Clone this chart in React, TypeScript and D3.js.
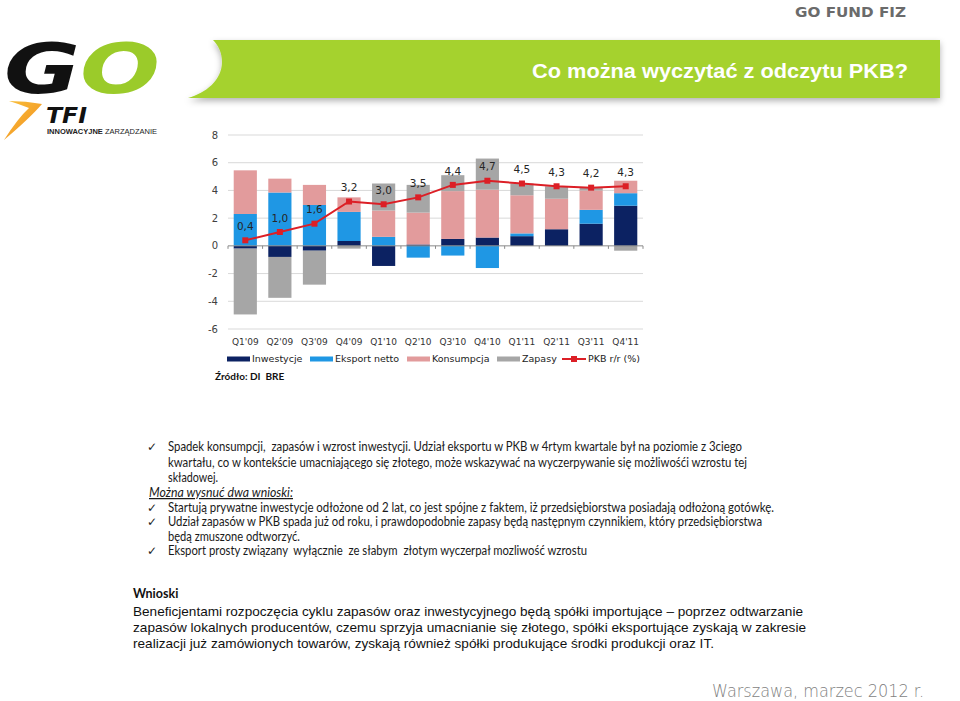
import React from 'react';
import * as d3 from 'd3';

// PKB decomposition, contributions in p.p.
const quarters = ["Q1'09", "Q2'09", "Q3'09", "Q4'09", "Q1'10", "Q2'10", "Q3'10", "Q4'10", "Q1'11", "Q2'11", "Q3'11", "Q4'11"];
const inwestycje = [-0.2, -0.8, -0.35, 0.35, -1.45, 0.1, 0.5, 0.6, 0.7, 1.2, 1.6, 2.9];
const eksportNetto = [2.3, 3.85, 2.95, 2.1, 0.65, -0.85, -0.7, -1.6, 0.2, 0, 1.0, 0.9];
const konsumpcja = [3.15, 1.0, 1.45, 1.05, 1.9, 2.3, 3.45, 3.45, 2.75, 2.2, 1.4, 0.9];
const zapasy = [-4.75, -2.95, -2.45, -0.2, 1.95, 2.0, 1.15, 2.25, 0.85, 0.9, 0.25, -0.35];
const pkb = [0.4, 1.0, 1.6, 3.2, 3.0, 3.5, 4.4, 4.7, 4.5, 4.3, 4.2, 4.3];
const yTicks = [-6, -4, -2, 0, 2, 4, 6, 8];

const seriesKeys = ['Inwestycje', 'Eksport netto', 'Konsumpcja', 'Zapasy'];
const seriesColors = ['#0c2262', '#1f97e4', '#e29b9c', '#a6a6a6'];
const lineColor = '#dc1f26';

const bulletLines = [
  { t: 'Spadek konsumpcji,  zapasów i wzrost inwestycji. Udział eksportu w PKB w 4rtym kwartale był na poziomie z 3ciego', check: true, w: 574 },
  { t: 'kwartału, co w kontekście umacniającego się złotego, może wskazywać na wyczerpywanie się możliwośći wzrostu tej', check: false, w: 579 },
  { t: 'składowej.', check: false, w: 50 },
  { t: 'Startują prywatne inwestycje odłożone od 2 lat, co jest spójne z faktem, iż przedsiębiorstwa posiadają odłożoną gotówkę.', check: true, w: 606 },
  { t: 'Udział zapasów w PKB spada już od roku, i prawdopodobnie zapasy będą następnym czynnikiem, który przedsiębiorstwa', check: true, w: 594 },
  { t: 'będą zmuszone odtworzyć.', check: false, w: 132 },
  { t: 'Eksport prosty związany  wyłącznie  ze słabym  złotym wyczerpał mozliwość wzrostu', check: true, w: 419 },
];
const bulletY = [451, 467, 482, 512, 526, 541, 555];

const wnioskiLines = [
  'Beneficjentami rozpoczęcia cyklu zapasów oraz inwestycyjnego będą spółki importujące – poprzez odtwarzanie',
  'zapasów lokalnych producentów, czemu sprzyja umacnianie się złotego, spółki eksportujące zyskają w zakresie',
  'realizacji już zamówionych towarów, zyskają również spółki produkujące środki produkcji oraz IT.',
];
const wnioskiW = [670, 673, 581];

const chartFont = '"DejaVu Sans", Verdana, sans-serif';
const bodyFont = 'Lato, "Open Sans", sans-serif';
const arialFont = '"Liberation Sans", Arial, sans-serif';

function Chart() {
  const x = d3.scaleBand().domain(quarters).range([228, 643]).paddingInner(0.33).paddingOuter(0.165);
  const y = d3.scaleLinear().domain([-6, 8]).range([329, 135]);
  const rows = quarters.map((q, i) => ({
    q,
    Inwestycje: inwestycje[i],
    'Eksport netto': eksportNetto[i],
    Konsumpcja: konsumpcja[i],
    Zapasy: zapasy[i],
  }));
  const stacked = d3.stack<any>().keys(seriesKeys).offset(d3.stackOffsetDiverging)(rows);
  const bw = x.bandwidth();
  const cx = (q: string) => (x(q) ?? 0) + bw / 2;
  const line = d3
    .line<number>()
    .x((_, i) => cx(quarters[i]))
    .y((v) => y(v));
  const fmt = (v: number) => d3.format('.1f')(v).replace('.', ',');
  const step = x.step();

  const legend = [
    { label: 'Inwestycje', x: 227, color: seriesColors[0] },
    { label: 'Eksport netto', x: 310, color: seriesColors[1] },
    { label: 'Konsumpcja', x: 407, color: seriesColors[2] },
    { label: 'Zapasy', x: 497, color: seriesColors[3] },
  ];

  return (
    <g fontFamily={chartFont}>
      {yTicks.map((t) => (
        <g key={t}>
          {t !== 0 && <line x1={228} x2={643} y1={y(t)} y2={y(t)} stroke="#d9d9d9" strokeWidth={1} />}
          <text x={218} y={y(t)} dy="0.35em" textAnchor="end" fontSize={10} fill="#404040">
            {t}
          </text>
        </g>
      ))}
      {stacked.map((s, si) => (
        <g key={s.key} fill={seriesColors[si]}>
          {s.map((d, i) => {
            const top = y(Math.max(d[0], d[1]));
            const bot = y(Math.min(d[0], d[1]));
            return <rect key={i} x={x(quarters[i])} y={top} width={bw} height={Math.max(0, bot - top)} />;
          })}
        </g>
      ))}
      <line x1={228} x2={643} y1={y(0)} y2={y(0)} stroke="#8a8a8a" strokeWidth={1} />
      {d3.range(quarters.length + 1).map((i) => (
        <line key={i} x1={228 + i * step} x2={228 + i * step} y1={y(0)} y2={y(0) + 3} stroke="#8a8a8a" />
      ))}
      <path d={line(pkb) ?? ''} fill="none" stroke={lineColor} strokeWidth={2} />
      {pkb.map((v, i) => (
        <rect key={i} x={cx(quarters[i]) - 3} y={y(v) - 3} width={6} height={6} fill={lineColor} />
      ))}
      {pkb.map((v, i) => (
        <text key={i} x={cx(quarters[i])} y={y(v) - 14} dy="0.35em" textAnchor="middle" fontSize={10.5} fill="#262626">
          {fmt(v)}
        </text>
      ))}
      {quarters.map((q) => (
        <text key={q} x={cx(q)} y={342} dy="0.35em" textAnchor="middle" fontSize={9} fill="#333">
          {q}
        </text>
      ))}
      {legend.map((l) => (
        <g key={l.label}>
          <rect x={l.x} y={356.5} width={23} height={5} fill={l.color} />
          <text x={l.x + 25} y={359} dy="0.35em" fontSize={9.5} fill="#222">
            {l.label}
          </text>
        </g>
      ))}
      <line x1={562} x2={586} y1={359} y2={359} stroke={lineColor} strokeWidth={2} />
      <rect x={571} y={356} width={6} height={6} fill={lineColor} />
      <text x={588} y={359} dy="0.35em" fontSize={9.5} fill="#222">
        PKB r/r (%)
      </text>
    </g>
  );
}

function Header() {
  return (
    <g>
      <defs>
        <filter id="bannerShadow" x="-5%" y="-20%" width="110%" height="160%">
          <feDropShadow dx="0" dy="3" stdDeviation="3" floodColor="#000" floodOpacity="0.3" />
        </filter>
        <linearGradient id="orange" x1="0" y1="0" x2="1" y2="1">
          <stop offset="0" stopColor="#f9c23c" />
          <stop offset="1" stopColor="#f18a1d" />
        </linearGradient>
      </defs>
      <text x={906} y={17} textAnchor="end" fontFamily={chartFont} fontWeight="bold" fontSize={14} fill="#6b6b6b" textLength={111} lengthAdjust="spacingAndGlyphs">
        GO FUND FIZ
      </text>
      <path
        d="M213,40 H940 V98 H188 C206,93 222,80 222,62 C222,52 218,45 213,40 Z"
        fill="#a5d22f"
        filter="url(#bannerShadow)"
      />
      <text x={908} y={78} textAnchor="end" fontFamily={arialFont} fontWeight="bold" fontSize={21} fill="#fff" textLength={376} lengthAdjust="spacingAndGlyphs">
        Co można wyczytać z odczytu PKB?
      </text>
      {/* logo */}
      <text x={4} y={93} fontFamily={chartFont} fontWeight="bold" fontStyle="italic" fontSize={70} fill="#111" textLength={76} lengthAdjust="spacingAndGlyphs">
        G
      </text>
      <text x={80} y={93} fontFamily={chartFont} fontWeight="bold" fontStyle="italic" fontSize={70} fill="#9bcb2a" textLength={80} lengthAdjust="spacingAndGlyphs">
        O
      </text>
      <path d="M9,101 Q26,101 42,104 Q30,118 4,140 Q18,118 29,108 Q19,104 9,101 Z" fill="url(#orange)" />
      <text x={46} y={123} fontFamily={chartFont} fontWeight="bold" fontStyle="italic" fontSize={22} fill="#111" textLength={41} lengthAdjust="spacingAndGlyphs">
        TFI
      </text>
      <text x={47} y={134} fontFamily={arialFont} fontSize={7.5} fill="#222" textLength={110} lengthAdjust="spacingAndGlyphs">
        <tspan fontWeight="bold">INNOWACYJNE</tspan>
        <tspan> ZARZĄDZANIE</tspan>
      </text>
    </g>
  );
}

function Body() {
  return (
    <g>
      <text x={215} y={380} fontFamily={bodyFont} fontWeight="bold" fontSize={10} fill="#111" style={{ whiteSpace: 'pre' }}>
        Źródło: DI  BRE
      </text>
      {bulletLines.map((l, i) => (
        <g key={i}>
          {l.check && (
            <text x={147} y={bulletY[i]} fontFamily={chartFont} fontSize={12} fill="#222">
              ✓
            </text>
          )}
          <text
            x={168}
            y={bulletY[i]}
            fontFamily={bodyFont}
            fontSize={12.5}
            fill="#1a1a1a"
            style={{ whiteSpace: 'pre' }}
            textLength={l.w}
            lengthAdjust="spacingAndGlyphs"
          >
            {l.t}
          </text>
        </g>
      ))}
      <text x={149} y={497} fontFamily={bodyFont} fontStyle="italic" fontSize={12.5} fill="#1a1a1a" textDecoration="underline" textLength={144} lengthAdjust="spacingAndGlyphs">
        Można wysnuć dwa wnioski:
      </text>
      <text x={133} y={598} fontFamily={bodyFont} fontWeight="bold" fontSize={12.5} fill="#111">
        Wnioski
      </text>
      {wnioskiLines.map((t, i) => (
        <text key={i} x={133} y={616 + i * 16} fontFamily={arialFont} fontSize={13.5} fill="#111" textLength={wnioskiW[i]} lengthAdjust="spacingAndGlyphs">
          {t}
        </text>
      ))}
      <text x={712} y={697} fontFamily={chartFont} fontWeight={200} fontSize={18} fill="#7f7f7f" textLength={212} lengthAdjust="spacingAndGlyphs">
        Warszawa, marzec 2012 r.
      </text>
    </g>
  );
}

export default function App() {
  return (
    <svg width={960} height={701} viewBox="0 0 960 701" style={{ position: 'absolute', left: 0, top: 0, background: '#fff' }}>
      <rect width={960} height={701} fill="#fff" />
      <Header />
      <Chart />
      <Body />
    </svg>
  );
}
